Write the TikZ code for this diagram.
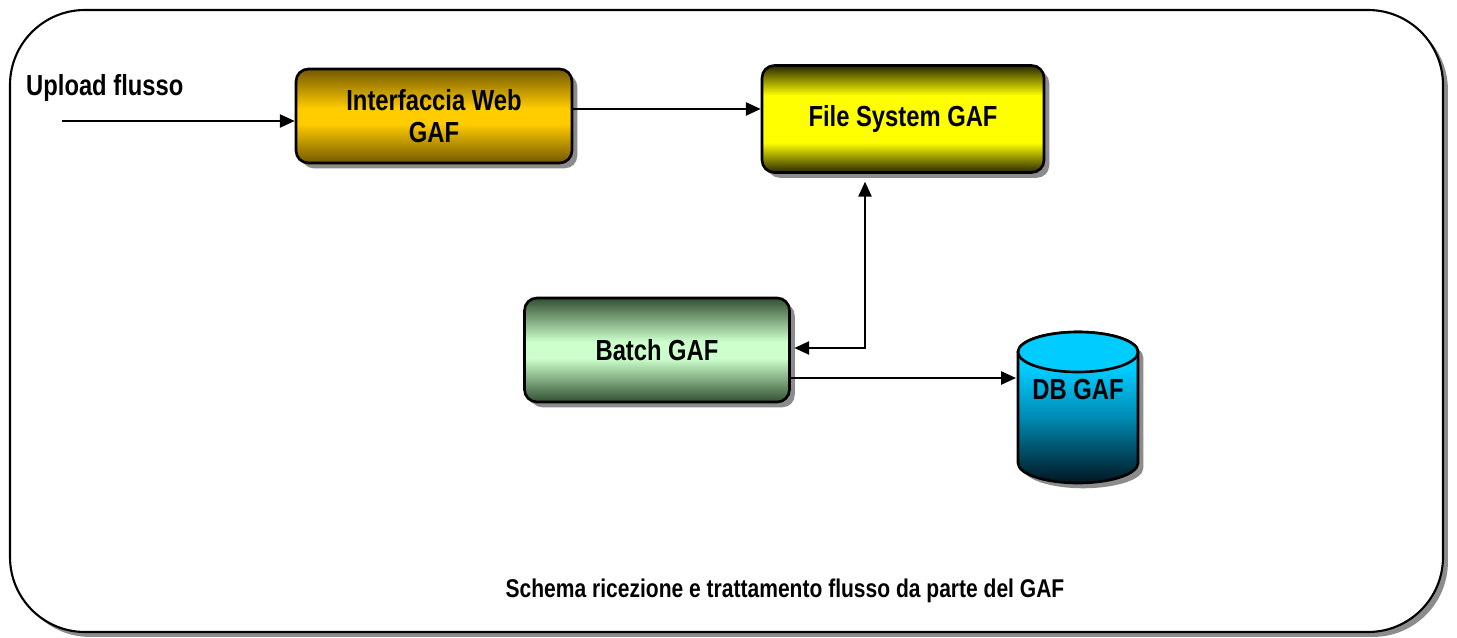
\documentclass[tikz,border=0pt]{standalone}
\usepackage{fontspec}
\setmainfont{Liberation Sans}
\newfontfamily\gaffont[FakeStretch=0.82]{Liberation Sans}
\usepackage{tikz}
\usetikzlibrary{arrows.meta,shadows,positioning}
\usepackage{xcolor}

\definecolor{webdark}{RGB}{115,88,0}
\definecolor{webmid}{RGB}{255,204,0}
\definecolor{fsdark}{RGB}{40,40,0}
\definecolor{fsmid}{RGB}{255,255,0}
\definecolor{batchdark}{RGB}{50,80,50}
\definecolor{batchmid}{RGB}{204,255,204}
\definecolor{dbtop}{RGB}{0,204,255}
\definecolor{dbmid}{RGB}{0,140,180}
\definecolor{dbdark}{RGB}{0,22,32}

% le sfumature vanno da 25bp (bordo basso) a 75bp (bordo alto)
\pgfdeclareverticalshading{fsshade}{100bp}{color(0bp)=(fsdark); color(25bp)=(fsdark); color(39bp)=(fsmid); color(61bp)=(fsmid); color(75bp)=(fsdark); color(100bp)=(fsdark)}
\pgfdeclareverticalshading{webshade}{100bp}{color(0bp)=(webdark); color(25bp)=(webdark); color(46bp)=(webmid); color(54bp)=(webmid); color(75bp)=(webdark); color(100bp)=(webdark)}
\pgfdeclareverticalshading{batchshade}{100bp}{color(0bp)=(batchdark); color(25bp)=(batchdark); color(46bp)=(batchmid); color(54bp)=(batchmid); color(75bp)=(batchdark); color(100bp)=(batchdark)}
\pgfdeclareverticalshading{dbshade}{100bp}{color(0bp)=(dbdark); color(25bp)=(dbdark); color(47bp)=(dbmid); color(63bp)=(dbtop); color(100bp)=(dbtop)}

\begin{document}
\begin{tikzpicture}[x=0.02cm,y=0.02cm,
    gafbox/.style={draw, line width=1.5pt, rounded corners=7pt, align=center,
        font=\gaffont\bfseries\fontsize{16.5}{18}\selectfont,
        drop shadow={shadow xshift=3pt, shadow yshift=-3pt, fill=black!45, opacity=1}},
    gaftext/.style={font=\gaffont\bfseries\fontsize{16.5}{18}\selectfont},
    flow/.style={line width=1.2pt, -{Triangle[length=8.5pt,width=7.5pt]}},
    flowboth/.style={line width=1.2pt, {Triangle[length=8.5pt,width=7.5pt]}-{Triangle[length=8.5pt,width=7.5pt]}}]
    \useasboundingbox (0,0) rectangle (1457,637);
    % cornice esterna
    \draw[line width=1.2pt, rounded corners=1.5cm, fill=white,
        drop shadow={shadow xshift=2.8pt, shadow yshift=-2.8pt, fill=black!45, opacity=1}]
        (10,5) rectangle (1443,627);

    % blocchi
    \node[gafbox, minimum width=5.52cm, minimum height=1.88cm, shading=webshade] (web) at (434,521) {Interfaccia Web\\GAF};
    \node[gafbox, minimum width=5.64cm, minimum height=2.14cm, shading=fsshade] (fs) at (903,518) {File System GAF};
    \node[gafbox, minimum width=5.3cm, minimum height=2.08cm, shading=batchshade] (batch) at (657,287) {Batch GAF};

    % database
    \fill[black!45, xshift=3pt, yshift=-3pt] (1018,285) -- (1018,174) arc[start angle=180, end angle=360, x radius=1.2cm, y radius=0.4cm]
        -- (1138,285) arc[start angle=0, end angle=180, x radius=1.2cm, y radius=0.4cm] -- cycle;
    \draw[line width=1.5pt, shading=dbshade]
        (1018,285) -- (1018,174) arc[start angle=180, end angle=360, x radius=1.2cm, y radius=0.4cm]
        -- (1138,285) arc[start angle=0, end angle=180, x radius=1.2cm, y radius=0.4cm] -- cycle;
    \draw[line width=1.5pt, fill=dbtop] (1078,285) ellipse[x radius=1.2cm, y radius=0.4cm];
    \node[gaftext] (db) at (1078,247) {DB GAF};
    \coordinate (dbw) at (1016,259);

    % testi
    \node[gaftext, anchor=west] (upload) at (20,549) {Upload flusso};
    \node[font=\gaffont\bfseries\fontsize{14.6}{16}\selectfont] (caption) at (785,46)
        {Schema ricezione e trattamento flusso da parte del GAF};

    % collegamenti
    \coordinate (src) at (62,516);
    \coordinate (knee) at (865,289);
    \draw[flow] (src) -- (src -| web.west);
    \draw[flow] ([yshift=4pt]web.east) -- ([yshift=4pt]web.east -| fs.west);
    \draw[flowboth, shorten >=4.5pt] ([xshift=2pt]batch.east |- knee) -- (knee) -- (knee |- fs.south);
    \draw[flow] (batch.east |- dbw) -- (dbw);
\end{tikzpicture}
\end{document}
